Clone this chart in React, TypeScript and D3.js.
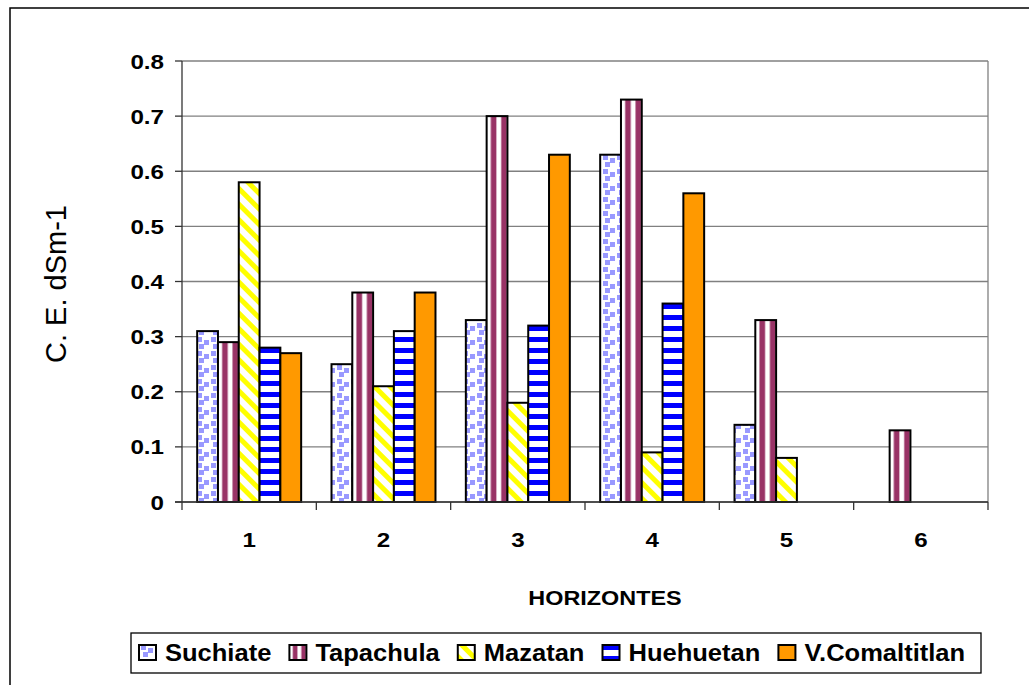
import React from "react";
import * as d3 from "d3";

// Electrical conductivity per soil horizon and site
const horizons = ["1", "2", "3", "4", "5", "6"];
const seriesNames = ["Suchiate", "Tapachula", "Mazatan", "Huehuetan", "V.Comaltitlan"];
const suchiate = [0.31, 0.25, 0.33, 0.63, 0.14, null];
const tapachula = [0.29, 0.38, 0.7, 0.73, 0.33, 0.13];
const mazatan = [0.58, 0.21, 0.18, 0.09, 0.08, null];
const huehuetan = [0.28, 0.31, 0.32, 0.36, null, null];
const comaltitlan = [0.27, 0.38, 0.63, 0.56, null, null];
const yTicks = [0, 0.1, 0.2, 0.3, 0.4, 0.5, 0.6, 0.7, 0.8];

const seriesValues: (number | null)[][] = [suchiate, tapachula, mazatan, huehuetan, comaltitlan];
const fills = ["url(#pSuchiate)", "url(#pTapachula)", "url(#pMazatan)", "url(#pHuehuetan)", "#FF9900"];

const W = 1029;
const H = 685;
const plot = { left: 182, top: 61, right: 988, bottom: 502 };
const FONT = "Liberation Sans, Arial, sans-serif";
const SX = 1.1; // horizontal text stretch

const measure = (() => {
  let ctx: CanvasRenderingContext2D | null = null;
  return (text: string, font: string) => {
    if (!ctx) ctx = document.createElement("canvas").getContext("2d");
    if (!ctx) return text.length * 12;
    ctx.font = font;
    return ctx.measureText(text).width;
  };
})();

type STextProps = {
  x: number;
  y: number;
  size: number;
  anchor?: "start" | "middle" | "end";
  bold?: boolean;
  dy?: string;
  sx?: number;
  children: React.ReactNode;
};

function SText({ x, y, size, anchor = "start", bold = true, dy, sx = SX, children }: STextProps) {
  return (
    <text
      transform={`translate(${x},${y}) scale(${sx},1)`}
      dy={dy}
      textAnchor={anchor}
      fontFamily={FONT}
      fontWeight={bold ? "bold" : "normal"}
      fontSize={size}
      fill="#000"
    >
      {children}
    </text>
  );
}

export default function App() {
  const x0 = d3.scaleBand<string>().domain(horizons).range([plot.left, plot.right]);
  const x1 = d3
    .scaleBand<string>()
    .domain(seriesNames)
    .range([0, x0.bandwidth()])
    .paddingInner(0)
    .paddingOuter(0.73);
  const y = d3.scaleLinear().domain([0, 0.8]).range([plot.bottom, plot.top]);

  // legend layout from text widths
  const legendSize = 23;
  const legendSX = 1.11;
  const legendFont = `bold ${legendSize}px ${FONT}`;
  const sqW = 17;
  const sqH = 15;
  let cursor = 139;
  const legendItems = seriesNames.map((name, i) => {
    const item = { name, i, x: cursor };
    cursor += 26 + measure(name, legendFont) * legendSX + 18;
    return item;
  });

  const boundaries = [...horizons.map((h) => x0(h)!), plot.right];

  return (
    <svg width={W} height={H} style={{ position: "absolute", left: 0, top: 0 }}>
      <defs>
        <pattern id="pSuchiate" patternUnits="userSpaceOnUse" width="14" height="14">
          <rect width="14" height="14" fill="#fff" />
          <rect x="1" y="1" width="5" height="5" fill="#9999FF" />
          <rect x="8" y="4" width="5" height="5" fill="#9999FF" />
          <rect x="3" y="8" width="5" height="5" fill="#9999FF" />
        </pattern>
        <pattern id="pTapachula" patternUnits="objectBoundingBox" width="0.5" height="1" patternContentUnits="objectBoundingBox">
          <rect width="0.5" height="1" fill="#fff" />
          <rect x="0.2" width="0.27" height="1" fill="#993366" />
        </pattern>
        <pattern id="pMazatan" patternUnits="userSpaceOnUse" width="11" height="11" patternTransform="rotate(-45)">
          <rect width="11" height="11" fill="#fff" />
          <rect width="5" height="11" fill="#FFFF00" />
        </pattern>
        <pattern id="pHuehuetan" patternUnits="userSpaceOnUse" width="11" height="11" y={plot.bottom}>
          <rect width="11" height="11" fill="#fff" />
          <rect width="11" height="5" fill="#0000FF" />
        </pattern>
      </defs>

      <rect x={0} y={0} width={W} height={H} fill="#fff" />
      <rect x={10} y={8} width={W + 20} height={H + 20} fill="none" stroke="#000" strokeWidth={1.5} />

      {/* gridlines */}
      {yTicks.map((t) => (
        <line key={`g${t}`} x1={plot.left} x2={plot.right} y1={y(t)} y2={y(t)} stroke="#808080" strokeWidth={1.3} />
      ))}
      <line x1={plot.right} x2={plot.right} y1={plot.top} y2={plot.bottom} stroke="#808080" strokeWidth={1.3} />

      {/* bars */}
      {horizons.map((h, hi) =>
        seriesNames.map((s, si) => {
          const v = seriesValues[si][hi];
          if (v == null) return null;
          const bx = x0(h)! + x1(s)!;
          return (
            <rect
              key={`${h}-${s}`}
              x={bx}
              y={y(v)}
              width={x1.bandwidth()}
              height={y(0) - y(v)}
              fill={fills[si]}
              stroke="#000"
              strokeWidth={2}
            />
          );
        })
      )}

      {/* axes */}
      <line x1={plot.left} x2={plot.left} y1={plot.top} y2={plot.bottom} stroke="#333" strokeWidth={1.3} />
      <line x1={plot.left - 7} x2={plot.right} y1={plot.bottom} y2={plot.bottom} stroke="#333" strokeWidth={1.3} />
      {yTicks.map((t) => (
        <g key={`t${t}`}>
          <line x1={plot.left - 7} x2={plot.left} y1={y(t)} y2={y(t)} stroke="#333" strokeWidth={1.3} />
          <SText x={164} y={y(t)} dy="0.36em" anchor="end" size={21} sx={1.15}>
            {t === 0 ? "0" : t.toFixed(1)}
          </SText>
        </g>
      ))}
      {boundaries.map((bx, i) => (
        <line key={`xt${i}`} x1={bx} x2={bx} y1={plot.bottom} y2={plot.bottom + 8} stroke="#333" strokeWidth={1.3} />
      ))}
      {horizons.map((h) => (
        <SText key={`xl${h}`} x={x0(h)! + x0.bandwidth() / 2} y={547} anchor="middle" size={21} sx={1.15}>
          {h}
        </SText>
      ))}

      <SText x={605} y={605} anchor="middle" size={20} sx={1.17}>
        HORIZONTES
      </SText>
      <text transform={`translate(66, 284) rotate(-90)`} textAnchor="middle" fontFamily={FONT} fontSize={29}>
        C. E. dSm-1
      </text>

      {/* legend */}
      <rect x={131} y={633} width={850} height={40} fill="#fff" stroke="#000" strokeWidth={1.3} />
      {legendItems.map((it) => (
        <g key={it.name}>
          <rect x={it.x} y={645} width={sqW} height={sqH} fill={fills[it.i]} stroke="#000" strokeWidth={2} />
          <SText x={it.x + 26} y={661} size={legendSize} sx={legendSX}>
            {it.name}
          </SText>
        </g>
      ))}
    </svg>
  );
}
